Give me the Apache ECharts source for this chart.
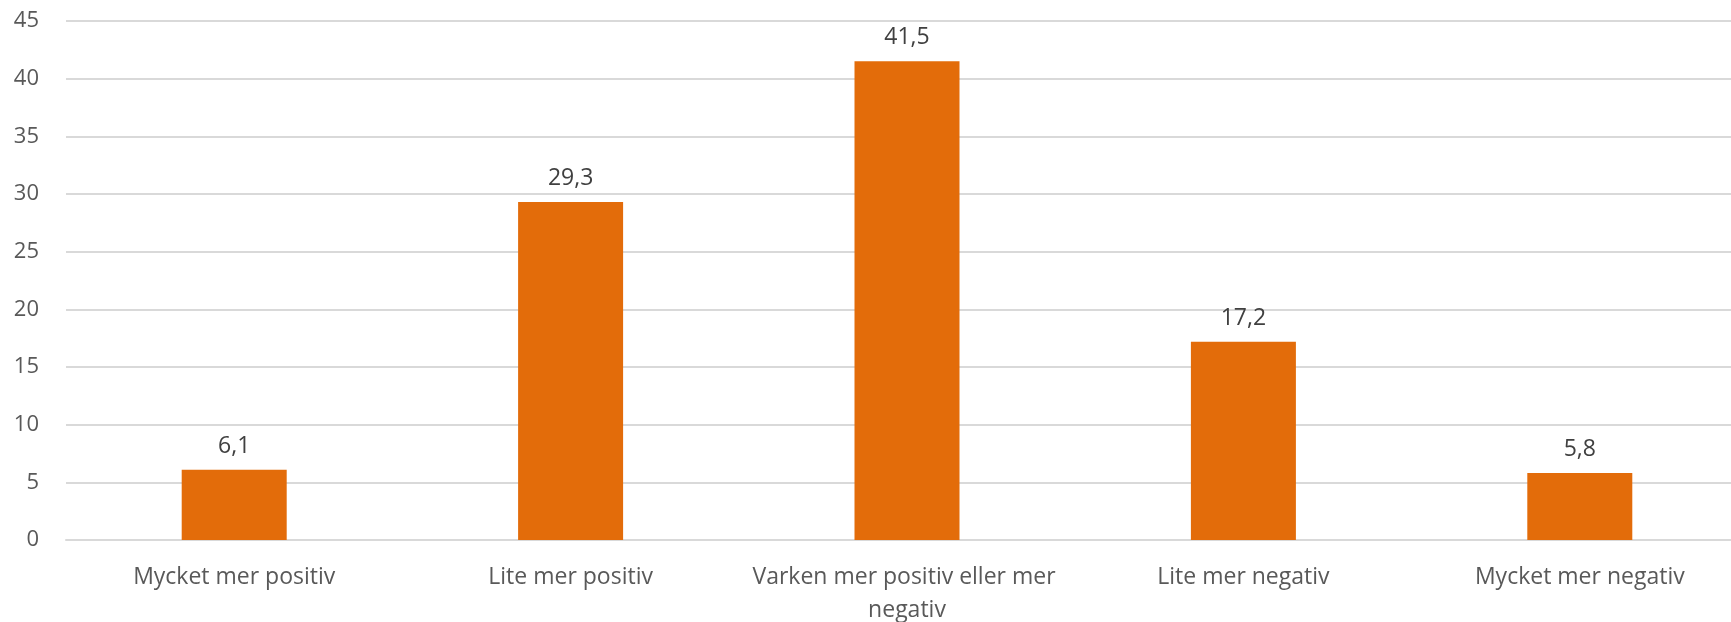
<!DOCTYPE html>
<html>
<head>
<meta charset="utf-8">
<script src="https://cdn.jsdelivr.net/npm/echarts@6/dist/echarts.min.js"></script>
<style>
html,body{margin:0;padding:0;background:#fff;}
#chart{width:1731px;height:622px;}
</style>
</head>
<body>
<div id="chart"></div>
<script>
const categories = ["Mycket mer positiv", "Lite mer positiv", "Varken mer positiv eller mer negativ", "Lite mer negativ", "Mycket mer negativ"];
const values = [6.1, 29.3, 41.5, 17.2, 5.8];
const yMin = 0, yMax = 45, yInterval = 5;

const chart = echarts.init(document.getElementById('chart'), null, {renderer: 'canvas'});
const FONT = 'Open Sans';
chart.setOption({
  animation: false,
  backgroundColor: '#ffffff',
  grid: {left: 66, top: 21, bottom: 82, width: 1682, outerBoundsMode: 'none', containLabel: false},
  xAxis: {
    type: 'category',
    data: categories,
    axisLine: {show: true, lineStyle: {color: '#D9D9D9', width: 2}},
    axisTick: {show: false},
    axisLabel: {
      interval: 0, color: '#595959', fontFamily: FONT, fontSize: 23,
      lineHeight: 33, margin: 21, width: 330, overflow: 'break'
    }
  },
  yAxis: {
    type: 'value', min: yMin, max: yMax, interval: yInterval,
    axisLine: {show: false}, axisTick: {show: false},
    axisLabel: {color: '#595959', fontFamily: FONT, fontSize: 22, margin: 27},
    splitLine: {lineStyle: {color: '#D9D9D9', width: 2}}
  },
  series: [{
    type: 'bar',
    data: values,
    barWidth: 105,
    itemStyle: {color: '#E36C0A'},
    label: {
      show: true, position: 'top', distance: 12,
      color: '#404040', fontFamily: FONT, fontSize: 23,
      formatter: p => String(p.value).replace('.', ',')
    }
  }]
});
</script>
</body>
</html>
